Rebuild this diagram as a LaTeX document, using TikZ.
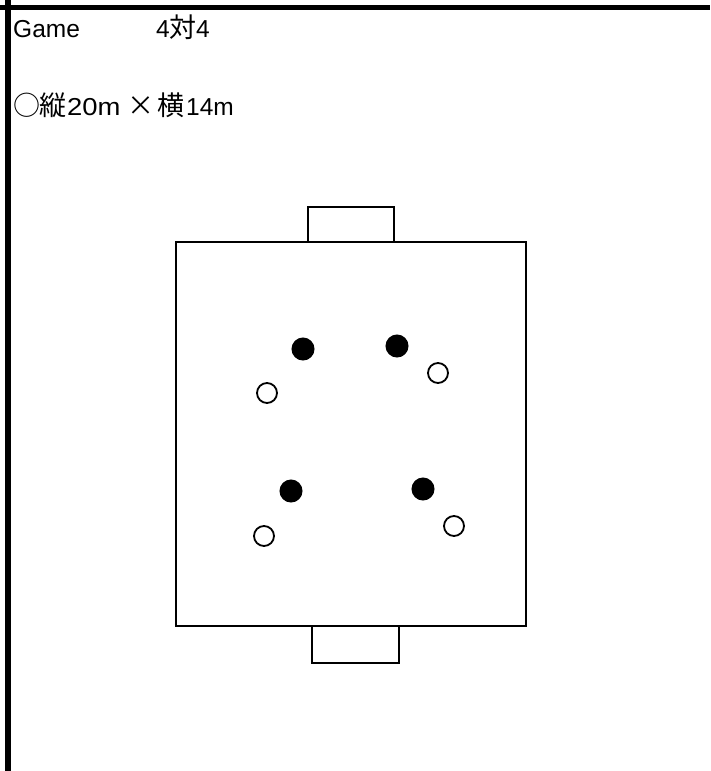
\documentclass[tikz,border=0pt]{standalone}
\usepackage{fontspec}
\setmainfont{Liberation Sans}
\newfontfamily\jp{Noto Sans CJK JP}
\begin{document}
\begin{tikzpicture}[x=1pt,y=-1pt,
  frame/.style={line width=5.5pt},
  fieldline/.style={line width=1.4pt},
  goalline/.style={line width=2pt},
  attacker/.style={circle,fill=black,draw=black,line width=1pt,minimum size=22pt,inner sep=0pt},
  defender/.style={circle,draw=black,fill=white,line width=1.8pt,minimum size=20pt,inner sep=0pt},
  label/.style={anchor=base west,inner sep=0pt,font=\fontsize{24.5}{28}\selectfont},
  jlabel/.style={anchor=base,inner sep=0pt,font=\jp\fontsize{27}{30}\selectfont}]
\useasboundingbox (0,0) rectangle (710,771);
\fill[white] (0,0) rectangle (710,771);
% frame lines
\coordinate (tl) at (0,7.5);
\coordinate (tr) at (710,7.5);
\coordinate (vt) at (8,0);
\coordinate (vb) at (8,771);
\draw[frame] (tl) -- (tr);
\draw[frame] (vt) -- (vb);
% texts
\node[label] (game) at (13,37) {Game};
\node[label] (four1) at (156,37) {4};
\node[jlabel] (tai) at (182.5,37) {対};
\node[label] (four2) at (196,37) {4};
\node[jlabel] (circ) at (26.5,115) {○};
\node[jlabel] (tate) at (53,115) {縦};
\node[label] (tatelen) at (67,115) {\scalebox{1.12}[1]{20m}};
\node[jlabel] (times) at (140.5,115) {×};
\node[jlabel] (yoko) at (170.5,115) {横};
\node[label] (yokolen) at (186,115) {14m};
% field
\node[draw,fieldline,minimum width=350pt,minimum height=384pt,inner sep=0pt] (field) at (351,434) {};
% goals
\coordinate (g1a) at (308,242);
\coordinate (g1b) at (308,207);
\coordinate (g1c) at (394,207);
\coordinate (g1d) at (394,242);
\draw[goalline] (g1a) -- (g1b) -- (g1c) -- (g1d);
\coordinate (g2a) at (312,626);
\coordinate (g2b) at (312,663);
\coordinate (g2c) at (399,663);
\coordinate (g2d) at (399,626);
\draw[goalline] (g2a) -- (g2b) -- (g2c) -- (g2d);
% players
\node[attacker] (a1) at (303,349) {};
\node[attacker] (a2) at (397,346) {};
\node[attacker] (a3) at (291,491) {};
\node[attacker] (a4) at (423,489) {};
\node[defender] (d1) at (267,393) {};
\node[defender] (d2) at (438,373) {};
\node[defender] (d3) at (264,536) {};
\node[defender] (d4) at (454,526) {};
\end{tikzpicture}
\end{document}
